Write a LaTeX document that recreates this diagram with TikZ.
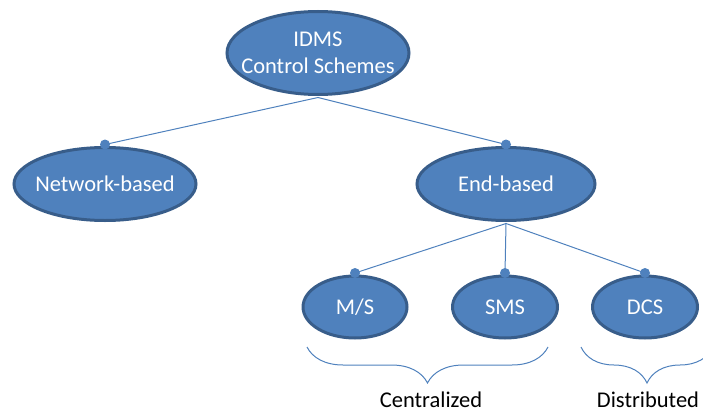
\documentclass[tikz,border=0pt]{standalone}
\usepackage{fontspec}
\setmainfont{Carlito}
\usetikzlibrary{shapes.geometric,decorations.pathreplacing}
\definecolor{bfill}{RGB}{79,129,189}
\definecolor{bline}{RGB}{56,93,138}
\tikzset{
  bub/.style={ellipse, draw=bline, line width=3pt, fill=bfill, inner sep=0pt},
  txt/.style={text=white, font=\fontsize{22.5}{27}\selectfont, inner sep=0pt, align=center},
  lbl/.style={text=black, font=\fontsize{22.5}{27}\selectfont, inner sep=0pt},
  dotm/.style={circle, fill=bfill, inner sep=0pt, minimum size=10pt},
  conn/.style={draw=bfill, line width=1pt},
  brc/.style={draw=bfill, line width=1pt, decorate, decoration={brace, mirror, amplitude=36pt}}
}
\begin{document}
\begin{tikzpicture}[x=1pt,y=-1pt]
\useasboundingbox (0,0) rectangle (703,412);
% ellipses
\node[bub, minimum width=182pt, minimum height=83pt] (idms) at (318,53) {};
\node[txt] (idmsT) at (idms.center) {IDMS\\Control Schemes};
\node[bub, minimum width=182pt, minimum height=73pt] (nb) at (105,184) {};
\node[txt] (nbT) at (nb.center) {Network-based};
\node[bub, minimum width=178pt, minimum height=73pt] (eb) at (506,184) {};
\node[txt] (ebT) at (eb.center) {End-based};
\node[bub, minimum width=104pt, minimum height=62pt] (ms) at (355,307) {};
\node[txt] (msT) at (ms.center) {M/S};
\node[bub, minimum width=105pt, minimum height=62pt] (sms) at (505,307) {};
\node[txt] (smsT) at (sms.center) {SMS};
\node[bub, minimum width=105pt, minimum height=62pt] (dcs) at (645,307) {};
\node[txt] (dcsT) at (dcs.center) {DCS};
% dots
\node[dotm] (dnb) at ([yshift=1.5pt]nb.north) {};
\node[dotm] (deb) at ([yshift=1.5pt]eb.north) {};
\node[dotm] (dms) at ([yshift=1.5pt]ms.north) {};
\node[dotm] (dsms) at ([yshift=1.5pt]sms.north) {};
\node[dotm] (ddcs) at ([yshift=1.5pt]dcs.north) {};
% connectors
\coordinate (idmsB) at ([yshift=-1.5pt]idms.south);
\coordinate (ebB) at ([yshift=-1.5pt]eb.south);
\draw[conn] (idmsB) -- (dnb.center);
\draw[conn] (idmsB) -- (deb.center);
\draw[conn] (ebB) -- (dms.center);
\draw[conn] (ebB) -- (dsms.center);
\draw[conn] (ebB) -- (ddcs.center);
% braces
\coordinate (b1a) at (307,347);
\coordinate (b1b) at (548,347);
\coordinate (b2a) at (581,347);
\coordinate (b2b) at (713,347);
\draw[brc] (b1a) -- (b1b);
\draw[brc] (b2a) -- (b2b);
\node[lbl] (cen) at (431,400) {Centralized};
\node[lbl] (dis) at (648,400) {Distributed};
\end{tikzpicture}
\end{document}
